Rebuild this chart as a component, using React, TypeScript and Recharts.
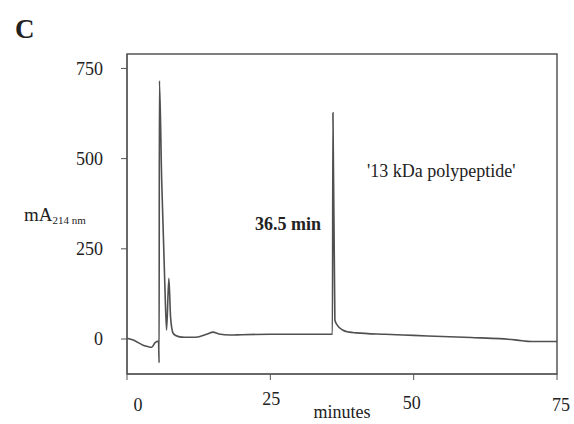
import React from "react";
import {
  LineChart,
  Line,
  XAxis,
  YAxis,
  ReferenceArea,
} from "recharts";

// retention time (minutes) and absorbance (mA at 214 nm)
const minutes = [
  0, 1.1, 2.8, 3.6, 4.3, 4.9, 5.5, 5.6, 5.65, 6.05, 6.6, 6.9, 7.3, 7.6, 8.05,
  8.6, 9.2, 10, 12, 14, 15, 16, 18, 20, 25, 30, 35, 35.83, 35.92, 36.26, 36.7,
  37.6, 38.8, 40, 45, 50, 55, 60, 65, 68, 70.6, 75,
];
const absorbance = [
  2, -3, -17, -21, -23, -10, -6, -66, 716, 440, 150, 25, 168, 60, 16, 9, 6, 5,
  5, 14, 19, 14, 11, 12, 13, 13, 13, 13, 627, 52, 38, 25, 19, 17, 13, 10, 7,
  4, 1, -3, -7, -7,
];

const xTicks = [0, 25, 50, 75];
const yTicks = [0, 250, 500, 750];

const peakLabel = "36.5 min";
const peakName = "'13 kDa polypeptide'";

const data = minutes.map((t, i) => ({ t, mA: absorbance[i] }));

const serif = "'Liberation Serif', 'DejaVu Serif', serif";
const ink = "#222";
const lineColor = "#505050";

// small nudges so the labels sit where the scanned figure has them
const xTickNudge: Record<number, [number, number]> = {
  0: [11, 4],
  25: [1, -2],
  50: [-2, 2],
  75: [4, 4],
};

const XTick = (props: any) => {
  const { x, y, payload } = props;
  const [dx, dy] = xTickNudge[payload.value] ?? [0, 0];
  return (
    <text
      x={x + dx}
      y={y + 25 + dy}
      textAnchor="middle"
      fontFamily={serif}
      fontSize={18}
      fill={ink}
    >
      {payload.value}
    </text>
  );
};

export default function App() {
  return (
    <div style={{ position: "absolute", left: 0, top: 0, background: "#fff" }}>
      <LineChart
        width={574}
        height={424}
        data={data}
        margin={{ top: 54, right: 17, bottom: 20, left: 0 }}
      >
        <XAxis
          dataKey="t"
          type="number"
          domain={[0, 75]}
          ticks={xTicks}
          height={30}
          stroke="#555"
          tickSize={6}
          tick={<XTick />}
        />
        <YAxis
          type="number"
          domain={[-97, 790]}
          ticks={yTicks}
          width={127}
          stroke="#555"
          tickSize={6}
          tickMargin={18}
          tick={{ fontFamily: serif, fontSize: 18, fill: ink }}
        />
        <ReferenceArea
          x1={0}
          x2={75}
          y1={-97}
          y2={790}
          fill="none"
          stroke="#555"
          strokeWidth={1.5}
        />
        <Line
          type="monotone"
          dataKey="mA"
          stroke={lineColor}
          strokeWidth={1.6}
          dot={false}
          isAnimationActive={false}
        />
        <text x={15} y={38} fontFamily={serif} fontSize={27} fontWeight="bold" fill={ink}>
          C
        </text>
        <text x={24} y={221} fontFamily={serif} fontSize={19} fill={ink}>
          mA
          <tspan fontSize={11} dy={3}>
            214 nm
          </tspan>
        </text>
        <text x={255} y={230} fontFamily={serif} fontSize={18} fontWeight="bold" fill={ink}>
          {peakLabel}
        </text>
        <text x={367} y={177} fontFamily={serif} fontSize={18} fill={ink}>
          {peakName}
        </text>
        <text x={342} y={418} textAnchor="middle" fontFamily={serif} fontSize={18} fill={ink}>
          minutes
        </text>
      </LineChart>
    </div>
  );
}
